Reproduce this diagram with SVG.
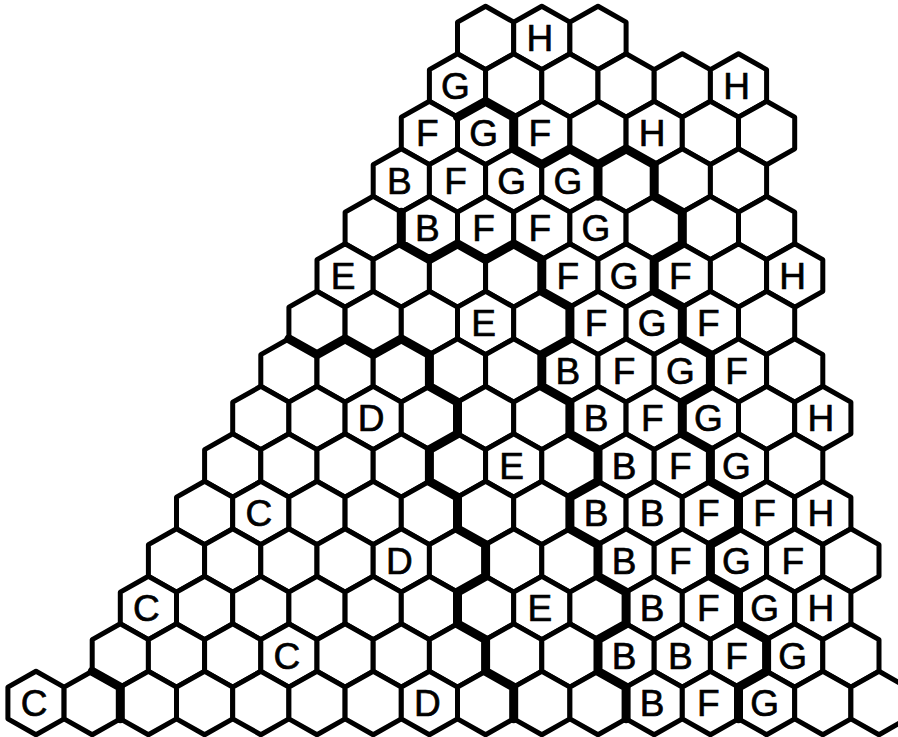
<svg xmlns="http://www.w3.org/2000/svg" width="898" height="737" viewBox="0 0 898 737">
<defs>
<style>
.hx{fill:#fff;stroke:#000;stroke-width:5;stroke-linejoin:round}
.lb{font-family:"Liberation Sans",Arial,sans-serif;font-size:37px;fill:#000;stroke:#000;stroke-width:0.7;text-anchor:middle}
.bd{fill:none;stroke:#000;stroke-width:9;stroke-linejoin:round;stroke-linecap:round}
</style>
<path id="hx" class="hx" d="M0,-31.7 L28.1,-15.85 L28.1,15.85 L0,31.7 L-28.1,15.85 L-28.1,-15.85 Z"/>
</defs>
<rect width="898" height="737" fill="#fff"/>
<g id="cells">
<g id="c14_16"><use href="#hx" x="485.6" y="38"/></g>
<g id="c14_18"><use href="#hx" x="541.8" y="38"/><text class="lb" x="539.8" y="51">H</text></g>
<g id="c14_20"><use href="#hx" x="598" y="38"/></g>
<g id="c13_15"><use href="#hx" x="457.5" y="85.5"/><text class="lb" x="455.5" y="98.5">G</text></g>
<g id="c13_17"><use href="#hx" x="513.7" y="85.5"/></g>
<g id="c13_19"><use href="#hx" x="569.9" y="85.5"/></g>
<g id="c13_21"><use href="#hx" x="626.1" y="85.5"/></g>
<g id="c13_23"><use href="#hx" x="682.3" y="85.5"/></g>
<g id="c13_25"><use href="#hx" x="738.5" y="85.5"/><text class="lb" x="736.5" y="98.5">H</text></g>
<g id="c12_14"><use href="#hx" x="429.4" y="133"/><text class="lb" x="427.4" y="146">F</text></g>
<g id="c12_16"><use href="#hx" x="485.6" y="133"/><text class="lb" x="483.6" y="146">G</text></g>
<g id="c12_18"><use href="#hx" x="541.8" y="133"/><text class="lb" x="539.8" y="146">F</text></g>
<g id="c12_20"><use href="#hx" x="598" y="133"/></g>
<g id="c12_22"><use href="#hx" x="654.2" y="133"/><text class="lb" x="652.2" y="146">H</text></g>
<g id="c12_24"><use href="#hx" x="710.4" y="133"/></g>
<g id="c12_26"><use href="#hx" x="766.6" y="133"/></g>
<g id="c11_13"><use href="#hx" x="401.3" y="180.5"/><text class="lb" x="399.3" y="193.5">B</text></g>
<g id="c11_15"><use href="#hx" x="457.5" y="180.5"/><text class="lb" x="455.5" y="193.5">F</text></g>
<g id="c11_17"><use href="#hx" x="513.7" y="180.5"/><text class="lb" x="511.7" y="193.5">G</text></g>
<g id="c11_19"><use href="#hx" x="569.9" y="180.5"/><text class="lb" x="567.9" y="193.5">G</text></g>
<g id="c11_21"><use href="#hx" x="626.1" y="180.5"/></g>
<g id="c11_23"><use href="#hx" x="682.3" y="180.5"/></g>
<g id="c11_25"><use href="#hx" x="738.5" y="180.5"/></g>
<g id="c10_12"><use href="#hx" x="373.2" y="228"/></g>
<g id="c10_14"><use href="#hx" x="429.4" y="228"/><text class="lb" x="427.4" y="241">B</text></g>
<g id="c10_16"><use href="#hx" x="485.6" y="228"/><text class="lb" x="483.6" y="241">F</text></g>
<g id="c10_18"><use href="#hx" x="541.8" y="228"/><text class="lb" x="539.8" y="241">F</text></g>
<g id="c10_20"><use href="#hx" x="598" y="228"/><text class="lb" x="596" y="241">G</text></g>
<g id="c10_22"><use href="#hx" x="654.2" y="228"/></g>
<g id="c10_24"><use href="#hx" x="710.4" y="228"/></g>
<g id="c10_26"><use href="#hx" x="766.6" y="228"/></g>
<g id="c9_11"><use href="#hx" x="345.1" y="275.5"/><text class="lb" x="343.1" y="288.5">E</text></g>
<g id="c9_13"><use href="#hx" x="401.3" y="275.5"/></g>
<g id="c9_15"><use href="#hx" x="457.5" y="275.5"/></g>
<g id="c9_17"><use href="#hx" x="513.7" y="275.5"/></g>
<g id="c9_19"><use href="#hx" x="569.9" y="275.5"/><text class="lb" x="567.9" y="288.5">F</text></g>
<g id="c9_21"><use href="#hx" x="626.1" y="275.5"/><text class="lb" x="624.1" y="288.5">G</text></g>
<g id="c9_23"><use href="#hx" x="682.3" y="275.5"/><text class="lb" x="680.3" y="288.5">F</text></g>
<g id="c9_25"><use href="#hx" x="738.5" y="275.5"/></g>
<g id="c9_27"><use href="#hx" x="794.7" y="275.5"/><text class="lb" x="792.7" y="288.5">H</text></g>
<g id="c8_10"><use href="#hx" x="317" y="323"/></g>
<g id="c8_12"><use href="#hx" x="373.2" y="323"/></g>
<g id="c8_14"><use href="#hx" x="429.4" y="323"/></g>
<g id="c8_16"><use href="#hx" x="485.6" y="323"/><text class="lb" x="483.6" y="336">E</text></g>
<g id="c8_18"><use href="#hx" x="541.8" y="323"/></g>
<g id="c8_20"><use href="#hx" x="598" y="323"/><text class="lb" x="596" y="336">F</text></g>
<g id="c8_22"><use href="#hx" x="654.2" y="323"/><text class="lb" x="652.2" y="336">G</text></g>
<g id="c8_24"><use href="#hx" x="710.4" y="323"/><text class="lb" x="708.4" y="336">F</text></g>
<g id="c8_26"><use href="#hx" x="766.6" y="323"/></g>
<g id="c7_9"><use href="#hx" x="288.9" y="370.5"/></g>
<g id="c7_11"><use href="#hx" x="345.1" y="370.5"/></g>
<g id="c7_13"><use href="#hx" x="401.3" y="370.5"/></g>
<g id="c7_15"><use href="#hx" x="457.5" y="370.5"/></g>
<g id="c7_17"><use href="#hx" x="513.7" y="370.5"/></g>
<g id="c7_19"><use href="#hx" x="569.9" y="370.5"/><text class="lb" x="567.9" y="383.5">B</text></g>
<g id="c7_21"><use href="#hx" x="626.1" y="370.5"/><text class="lb" x="624.1" y="383.5">F</text></g>
<g id="c7_23"><use href="#hx" x="682.3" y="370.5"/><text class="lb" x="680.3" y="383.5">G</text></g>
<g id="c7_25"><use href="#hx" x="738.5" y="370.5"/><text class="lb" x="736.5" y="383.5">F</text></g>
<g id="c7_27"><use href="#hx" x="794.7" y="370.5"/></g>
<g id="c6_8"><use href="#hx" x="260.8" y="418"/></g>
<g id="c6_10"><use href="#hx" x="317" y="418"/></g>
<g id="c6_12"><use href="#hx" x="373.2" y="418"/><text class="lb" x="371.2" y="431">D</text></g>
<g id="c6_14"><use href="#hx" x="429.4" y="418"/></g>
<g id="c6_16"><use href="#hx" x="485.6" y="418"/></g>
<g id="c6_18"><use href="#hx" x="541.8" y="418"/></g>
<g id="c6_20"><use href="#hx" x="598" y="418"/><text class="lb" x="596" y="431">B</text></g>
<g id="c6_22"><use href="#hx" x="654.2" y="418"/><text class="lb" x="652.2" y="431">F</text></g>
<g id="c6_24"><use href="#hx" x="710.4" y="418"/><text class="lb" x="708.4" y="431">G</text></g>
<g id="c6_26"><use href="#hx" x="766.6" y="418"/></g>
<g id="c6_28"><use href="#hx" x="822.8" y="418"/><text class="lb" x="820.8" y="431">H</text></g>
<g id="c5_7"><use href="#hx" x="232.7" y="465.5"/></g>
<g id="c5_9"><use href="#hx" x="288.9" y="465.5"/></g>
<g id="c5_11"><use href="#hx" x="345.1" y="465.5"/></g>
<g id="c5_13"><use href="#hx" x="401.3" y="465.5"/></g>
<g id="c5_15"><use href="#hx" x="457.5" y="465.5"/></g>
<g id="c5_17"><use href="#hx" x="513.7" y="465.5"/><text class="lb" x="511.7" y="478.5">E</text></g>
<g id="c5_19"><use href="#hx" x="569.9" y="465.5"/></g>
<g id="c5_21"><use href="#hx" x="626.1" y="465.5"/><text class="lb" x="624.1" y="478.5">B</text></g>
<g id="c5_23"><use href="#hx" x="682.3" y="465.5"/><text class="lb" x="680.3" y="478.5">F</text></g>
<g id="c5_25"><use href="#hx" x="738.5" y="465.5"/><text class="lb" x="736.5" y="478.5">G</text></g>
<g id="c5_27"><use href="#hx" x="794.7" y="465.5"/></g>
<g id="c4_6"><use href="#hx" x="204.6" y="513"/></g>
<g id="c4_8"><use href="#hx" x="260.8" y="513"/><text class="lb" x="258.8" y="526">C</text></g>
<g id="c4_10"><use href="#hx" x="317" y="513"/></g>
<g id="c4_12"><use href="#hx" x="373.2" y="513"/></g>
<g id="c4_14"><use href="#hx" x="429.4" y="513"/></g>
<g id="c4_16"><use href="#hx" x="485.6" y="513"/></g>
<g id="c4_18"><use href="#hx" x="541.8" y="513"/></g>
<g id="c4_20"><use href="#hx" x="598" y="513"/><text class="lb" x="596" y="526">B</text></g>
<g id="c4_22"><use href="#hx" x="654.2" y="513"/><text class="lb" x="652.2" y="526">B</text></g>
<g id="c4_24"><use href="#hx" x="710.4" y="513"/><text class="lb" x="708.4" y="526">F</text></g>
<g id="c4_26"><use href="#hx" x="766.6" y="513"/><text class="lb" x="764.6" y="526">F</text></g>
<g id="c4_28"><use href="#hx" x="822.8" y="513"/><text class="lb" x="820.8" y="526">H</text></g>
<g id="c3_5"><use href="#hx" x="176.5" y="560.5"/></g>
<g id="c3_7"><use href="#hx" x="232.7" y="560.5"/></g>
<g id="c3_9"><use href="#hx" x="288.9" y="560.5"/></g>
<g id="c3_11"><use href="#hx" x="345.1" y="560.5"/></g>
<g id="c3_13"><use href="#hx" x="401.3" y="560.5"/><text class="lb" x="399.3" y="573.5">D</text></g>
<g id="c3_15"><use href="#hx" x="457.5" y="560.5"/></g>
<g id="c3_17"><use href="#hx" x="513.7" y="560.5"/></g>
<g id="c3_19"><use href="#hx" x="569.9" y="560.5"/></g>
<g id="c3_21"><use href="#hx" x="626.1" y="560.5"/><text class="lb" x="624.1" y="573.5">B</text></g>
<g id="c3_23"><use href="#hx" x="682.3" y="560.5"/><text class="lb" x="680.3" y="573.5">F</text></g>
<g id="c3_25"><use href="#hx" x="738.5" y="560.5"/><text class="lb" x="736.5" y="573.5">G</text></g>
<g id="c3_27"><use href="#hx" x="794.7" y="560.5"/><text class="lb" x="792.7" y="573.5">F</text></g>
<g id="c3_29"><use href="#hx" x="850.9" y="560.5"/></g>
<g id="c2_4"><use href="#hx" x="148.4" y="608"/><text class="lb" x="146.4" y="621">C</text></g>
<g id="c2_6"><use href="#hx" x="204.6" y="608"/></g>
<g id="c2_8"><use href="#hx" x="260.8" y="608"/></g>
<g id="c2_10"><use href="#hx" x="317" y="608"/></g>
<g id="c2_12"><use href="#hx" x="373.2" y="608"/></g>
<g id="c2_14"><use href="#hx" x="429.4" y="608"/></g>
<g id="c2_16"><use href="#hx" x="485.6" y="608"/></g>
<g id="c2_18"><use href="#hx" x="541.8" y="608"/><text class="lb" x="539.8" y="621">E</text></g>
<g id="c2_20"><use href="#hx" x="598" y="608"/></g>
<g id="c2_22"><use href="#hx" x="654.2" y="608"/><text class="lb" x="652.2" y="621">B</text></g>
<g id="c2_24"><use href="#hx" x="710.4" y="608"/><text class="lb" x="708.4" y="621">F</text></g>
<g id="c2_26"><use href="#hx" x="766.6" y="608"/><text class="lb" x="764.6" y="621">G</text></g>
<g id="c2_28"><use href="#hx" x="822.8" y="608"/><text class="lb" x="820.8" y="621">H</text></g>
<g id="c1_3"><use href="#hx" x="120.3" y="655.5"/></g>
<g id="c1_5"><use href="#hx" x="176.5" y="655.5"/></g>
<g id="c1_7"><use href="#hx" x="232.7" y="655.5"/></g>
<g id="c1_9"><use href="#hx" x="288.9" y="655.5"/><text class="lb" x="286.9" y="668.5">C</text></g>
<g id="c1_11"><use href="#hx" x="345.1" y="655.5"/></g>
<g id="c1_13"><use href="#hx" x="401.3" y="655.5"/></g>
<g id="c1_15"><use href="#hx" x="457.5" y="655.5"/></g>
<g id="c1_17"><use href="#hx" x="513.7" y="655.5"/></g>
<g id="c1_19"><use href="#hx" x="569.9" y="655.5"/></g>
<g id="c1_21"><use href="#hx" x="626.1" y="655.5"/><text class="lb" x="624.1" y="668.5">B</text></g>
<g id="c1_23"><use href="#hx" x="682.3" y="655.5"/><text class="lb" x="680.3" y="668.5">B</text></g>
<g id="c1_25"><use href="#hx" x="738.5" y="655.5"/><text class="lb" x="736.5" y="668.5">F</text></g>
<g id="c1_27"><use href="#hx" x="794.7" y="655.5"/><text class="lb" x="792.7" y="668.5">G</text></g>
<g id="c1_29"><use href="#hx" x="850.9" y="655.5"/></g>
<g id="c0_0"><use href="#hx" x="36" y="703"/><text class="lb" x="34" y="716">C</text></g>
<g id="c0_2"><use href="#hx" x="92.2" y="703"/></g>
<g id="c0_4"><use href="#hx" x="148.4" y="703"/></g>
<g id="c0_6"><use href="#hx" x="204.6" y="703"/></g>
<g id="c0_8"><use href="#hx" x="260.8" y="703"/></g>
<g id="c0_10"><use href="#hx" x="317" y="703"/></g>
<g id="c0_12"><use href="#hx" x="373.2" y="703"/></g>
<g id="c0_14"><use href="#hx" x="429.4" y="703"/><text class="lb" x="427.4" y="716">D</text></g>
<g id="c0_16"><use href="#hx" x="485.6" y="703"/></g>
<g id="c0_18"><use href="#hx" x="541.8" y="703"/></g>
<g id="c0_20"><use href="#hx" x="598" y="703"/></g>
<g id="c0_22"><use href="#hx" x="654.2" y="703"/><text class="lb" x="652.2" y="716">B</text></g>
<g id="c0_24"><use href="#hx" x="710.4" y="703"/><text class="lb" x="708.4" y="716">F</text></g>
<g id="c0_26"><use href="#hx" x="766.6" y="703"/><text class="lb" x="764.6" y="716">G</text></g>
<g id="c0_28"><use href="#hx" x="822.8" y="703"/></g>
<g id="c0_30"><use href="#hx" x="879" y="703"/></g>
</g>
<g id="boundaries">
<path class="bd" d="M457.5,117.15 L485.6,101.35 L513.7,117.15 L513.7,148.85 L541.8,164.7 L569.9,148.85 L598,164.7 L626.1,148.85 L654.2,164.7 L654.2,196.35 L682.3,212.15 L682.3,243.85 L654.2,259.65 L654.2,291.35 L682.3,307.15 L682.3,338.85 L710.4,354.65 L710.4,386.35 L682.3,402.15 L682.3,433.85 L710.4,449.65 L710.4,481.35 L738.5,497.15 L738.5,528.85 L710.4,544.65 L710.4,576.35 L738.5,592.15 L738.5,623.85 L766.6,639.65 L766.6,671.35 L738.5,687.15 L738.5,718.85"/>
<path class="bd" d="M598,164.7 L598,196.35"/>
<path class="bd" d="M401.3,212.15 L401.3,243.85 L429.4,259.65 L457.5,243.85 L485.6,259.65 L513.7,243.85 L541.8,259.65 L541.8,291.35 L569.9,307.15 L569.9,338.85 L541.8,354.65 L541.8,386.35 L569.9,402.15 L569.9,433.85 L598,449.65 L598,481.35 L569.9,497.15 L569.9,528.85 L598,544.65 L598,576.35 L626.1,592.15 L626.1,623.85 L598,639.65 L598,671.35 L626.1,687.15 L626.1,718.85"/>
<path class="bd" d="M288.9,338.85 L317,354.65 L345.1,338.85 L373.2,354.65 L401.3,338.85 L429.4,354.65 L429.4,386.35 L457.5,402.15 L457.5,433.85 L429.4,449.65 L429.4,481.35 L457.5,497.15 L457.5,528.85 L485.6,544.65 L485.6,576.35 L457.5,592.15 L457.5,623.85 L485.6,639.65 L485.6,671.35 L513.7,687.15 L513.7,718.85"/>
<path class="bd" d="M92.2,671.35 L120.3,687.15 L120.3,718.85"/>
</g>
</svg>
